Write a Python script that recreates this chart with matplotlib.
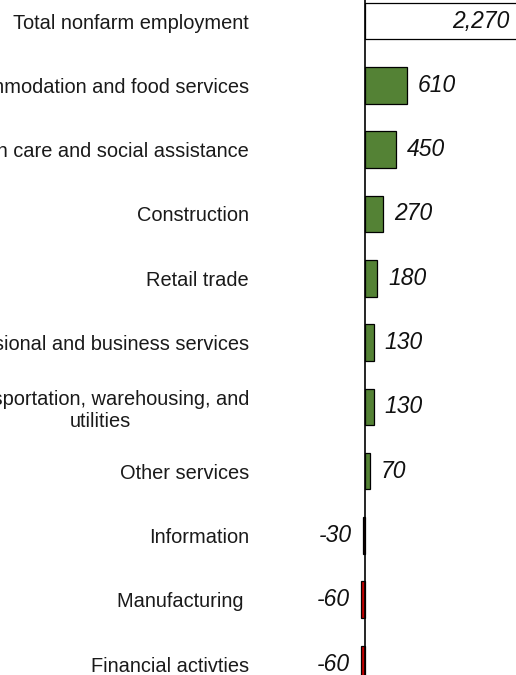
import matplotlib

matplotlib.use("Agg")

import matplotlib.pyplot as plt


categories = [
    "Total nonfarm employment",
    "Accommodation and food services",
    "Health care and social assistance",
    "Construction",
    "Retail trade",
    "Professional and business services",
    "Transportation, warehousing, and\nutilities",
    "Other services",
    "Information",
    "Manufacturing ",
    "Financial activties",
]
values = [2270, 610, 450, 270, 180, 130, 130, 70, -30, -60, -60]
value_labels = ["2,270", "610", "450", "270", "180", "130", "130", "70", "-30", "-60", "-60"]

GREEN = "#548235"
RED = "#c00000"
DARK_RED = "#6a0a0a"


def bar_color(i, v):
    if i == 0:
        return "white"
    if categories[i] == "Information":
        return DARK_RED
    return GREEN if v >= 0 else RED


def main() -> None:
    plt.rcParams["font.family"] = ["Liberation Sans", "DejaVu Sans"]

    fig = plt.figure(figsize=(5.16, 6.75), dpi=100)
    ax = fig.add_axes([0.5, 0.0, 0.5, 1.0])

    ys = list(range(len(categories)))
    colors = [bar_color(i, v) for i, v in enumerate(values)]
    ax.barh(ys, values, height=0.57, color=colors, edgecolor="black",
            linewidth=0.9, zorder=2)

    # zero line running the full height
    ax.axvline(0, color="black", linewidth=1.2, zorder=3)

    ax.set_xlim(-1574, 2220)
    ax.set_ylim(10.17, -0.327)

    for i, (v, lab) in enumerate(zip(values, value_labels)):
        if i == 0:
            # total runs off the right edge, so its label sits inside the bar
            ax.annotate(lab, xy=(ax.get_xlim()[1], i), xytext=(-6, 0),
                        textcoords="offset pixels", annotation_clip=False,
                        ha="right", va="center", fontsize=16.5, style="italic",
                        color="#111111", zorder=4)
        elif v >= 0:
            ax.annotate(lab, xy=(v, i), xytext=(11, 0), textcoords="offset pixels",
                        ha="left", va="center", fontsize=16.5, style="italic",
                        color="#111111")
        else:
            ax.annotate(lab, xy=(v, i), xytext=(-11, 0), textcoords="offset pixels",
                        ha="right", va="center", fontsize=16.5, style="italic",
                        color="#111111")

    ax.set_yticks(ys)
    ax.set_yticklabels(categories, fontsize=14.4, color="#1a1a1a")
    for t in ax.get_yticklabels():
        t.set_multialignment("center")
    ax.tick_params(axis="y", length=0, pad=6.5)
    ax.tick_params(axis="x", length=0, labelbottom=False)

    for side in ["top", "bottom", "left", "right"]:
        ax.spines[side].set_visible(False)

    fig.savefig("out.png", dpi=100)
    plt.close(fig)


if __name__ == "__main__":
    main()
